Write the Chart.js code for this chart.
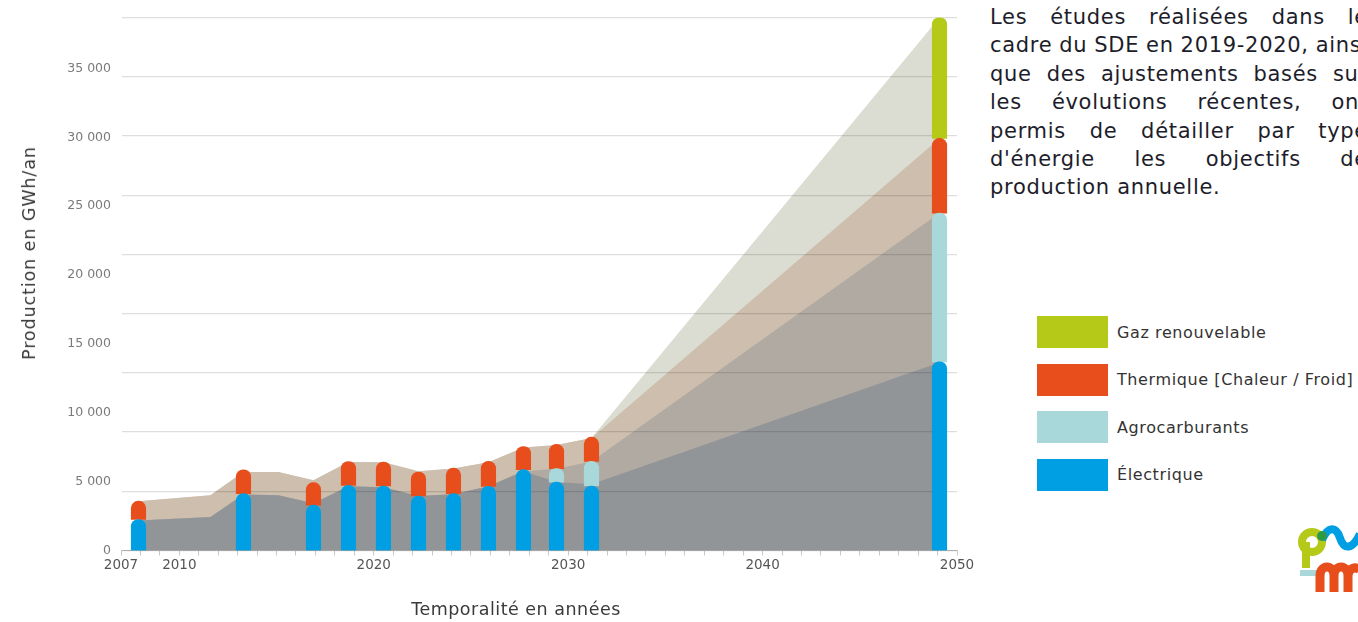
<!DOCTYPE html>
<html lang="fr">
<head>
<meta charset="utf-8">
<title>Production en GWh/an</title>
<script src="https://cdn.jsdelivr.net/npm/chart.js@4.4.1/dist/chart.umd.min.js"></script>
<style>
  html, body { margin: 0; padding: 0; background: #fff; }
  body { position: relative; width: 1358px; height: 622px; overflow: hidden; font-family: "DejaVu Sans", sans-serif; }
  #chartBox { position: absolute; left: 0; top: 0; width: 980px; height: 622px; }
  .axis-title { position: absolute; color: #3a3a3a; white-space: nowrap; font-size: 17.5px; }
  #yTitle { left: 29px; top: 253px; transform: translate(-50%, -50%) rotate(-90deg); letter-spacing: 0.9px; }
  #xTitle { left: 516px; top: 609px; transform: translate(-50%, -50%); letter-spacing: 0.5px; }
  #intro { position: absolute; left: 990px; top: 3px; font-family: "DejaVu Sans", sans-serif; font-size: 21px; letter-spacing: 0.7px; line-height: 28.4px; color: #1d1d2b; }
  #intro .jline { display: flex; justify-content: space-between; width: 378px; white-space: nowrap; }
  #intro .last { white-space: nowrap; }
  #legend { position: absolute; left: 1037px; top: 316px; }
  #legend .item { display: flex; align-items: center; height: 32px; margin-bottom: 15.6px; }
  #legend .swatch { width: 71px; height: 32px; margin-right: 9px; }
  #legend .label { font-size: 16px; letter-spacing: 0.6px; color: #333; white-space: nowrap; }
  #logo { position: absolute; left: 1298px; top: 520px; }
</style>
</head>
<body>
<div id="chartBox"><canvas id="chart" width="980" height="622"></canvas></div>
<div class="axis-title" id="yTitle">Production en GWh/an</div>
<div class="axis-title" id="xTitle">Temporalité en années</div>

<div id="intro">
  <div class="jline">Les études réalisées dans le</div>
  <div class="jline">cadre du SDE en 2019-2020, ainsi</div>
  <div class="jline">que des ajustements basés sur</div>
  <div class="jline">les évolutions récentes, ont</div>
  <div class="jline">permis de détailler par type</div>
  <div class="jline">d'énergie les objectifs de</div>
  <div class="last">production annuelle.</div>
</div>

<div id="legend"></div>

<svg id="logo" width="62" height="72" viewBox="0 0 62 72">
  <circle cx="14" cy="22" r="10" fill="none" stroke="#b5c918" stroke-width="8"/>
  <rect x="4" y="22" width="8" height="26" fill="#b5c918"/>
  <path d="M24 20 C30 6 38 6 42 18 C46 30 54 30 62 14" fill="none" stroke="#009fe3" stroke-width="8"/>
  <circle cx="24" cy="16" r="5" fill="#2e9a45"/>
  <rect x="2" y="50" width="22" height="6" fill="#a8d8da"/>
  <path d="M22 72 L22 56 C22 44 36 44 36 56 L36 72 M36 56 C36 44 50 44 50 56 L50 72 M50 56 C50 48 58 46 62 50" fill="none" stroke="#e84e1b" stroke-width="9"/>
</svg>

<script>
// Production annuelle par type d'énergie (GWh/an), barres aux années repères
const barYears        = [2007.9, 2013.3, 2016.9, 2018.7, 2020.5, 2022.3, 2024.1, 2025.9, 2027.7, 2029.4, 2031.2, 2049.1];
const electrique      = [2250, 4130, 3290, 4730, 4680, 3960, 4130, 4660, 5870, 4970, 4680, 13700];
const agrocarburants  = [null, null, null, null, null, null, null, null, null, 970, 1790, 10800];
const thermique       = [1330, 1730, 1640, 1730, 1740, 1740, 1850, 1810, 1680, 1760, 1760, 5420];
const gazRenouvelable = [null, null, null, null, null, null, null, null, null, null, null, 8780];

// Enveloppes de tendance (valeurs cumulées) dessinées en aplats derrière les barres
const trendYears     = [2007.9, 2011.6, 2013.3, 2015.1, 2016.9, 2018.7, 2020.5, 2022.3, 2024.1, 2025.9, 2027.7, 2029.4, 2031.2, 2049.1];
const trendElec      = [2180, 2440, 4060, 4010, 3430, 4660, 4590, 3960, 4080, 4660, 5750, 4970, 4810, 13650];
const trendAgro      = [2180, 2440, 4060, 4010, 3430, 4660, 4590, 3960, 4080, 4660, 5750, 5940, 6470, 24500];
const trendThermique = [3580, 4010, 5700, 5700, 5100, 6420, 6400, 5750, 5960, 6400, 7480, 7660, 8170, 29920];
const trendTotal     = [3580, 4010, 5700, 5700, 5100, 6420, 6400, 5750, 5960, 6400, 7480, 7660, 8170, 38700];

// Axes
const xTickLabels = [2007, 2010, 2020, 2030, 2040, 2050];
const yTickValues = [0, 5000, 10000, 15000, 20000, 25000, 30000, 35000];

const seriesNames  = ['Gaz renouvelable', 'Thermique [Chaleur / Froid]', 'Agrocarburants', 'Électrique'];
const seriesColors = ['#b5c918', '#e84e1b', '#a8d8da', '#009fe3'];

const formatThousands = v => String(v).replace(/\B(?=(\d{3})+(?!\d))/g, ' ');
const points = (xs, ys) => xs.map((x, i) => ({ x, y: ys[i] }));

const barStyle = {
  type: 'bar',
  stack: 'production',
  barThickness: 14.5,
  borderRadius: { topLeft: 7.25, topRight: 7.25, bottomLeft: 0, bottomRight: 0 },
  borderSkipped: 'start',
  borderWidth: 0,
  order: 1
};

const areaStyle = {
  type: 'line',
  fill: 'origin',
  borderWidth: 0,
  pointRadius: 0,
  tension: 0
};

const datasets = [
  { ...areaStyle, id: 'trendTotal', stack: 'trendTotal', data: points(trendYears, trendTotal), backgroundColor: '#dcddd2', order: 5 },
  { ...areaStyle, id: 'trendThermique', stack: 'trendThermique', data: points(trendYears, trendThermique), backgroundColor: '#cdbead', order: 4 },
  { ...areaStyle, id: 'trendAgro', stack: 'trendAgro', data: points(trendYears, trendAgro), backgroundColor: '#b0aaa3', order: 3 },
  { ...areaStyle, id: 'trendElec', stack: 'trendElec', data: points(trendYears, trendElec), backgroundColor: '#929598', order: 2 },
  { ...barStyle, label: seriesNames[3], data: points(barYears, electrique), backgroundColor: seriesColors[3] },
  { ...barStyle, label: seriesNames[2], data: points(barYears, agrocarburants), backgroundColor: seriesColors[2] },
  { ...barStyle, label: seriesNames[1], data: points(barYears, thermique), backgroundColor: seriesColors[1] },
  { ...barStyle, label: seriesNames[0], data: points(barYears, gazRenouvelable), backgroundColor: seriesColors[0] }
];

// Lignes de quadrillage tracées par-dessus les aplats mais sous les barres
const gridOverAreas = {
  id: 'gridOverAreas',
  afterDatasetDraw(chart, args) {
    if (chart.data.datasets[args.index].id !== 'trendElec') return;
    const ctx = chart.ctx;
    ctx.save();
    chart.scales.yGrid.drawGrid(chart.chartArea);
    ctx.restore();
  }
};

new Chart(document.getElementById('chart'), {
  data: { datasets },
  plugins: [gridOverAreas],
  options: {
    responsive: false,
    animation: false,
    layout: { padding: { left: 0, right: 23, top: 15, bottom: 41.5 } },
    plugins: { legend: { display: false }, tooltip: { enabled: false } },
    scales: {
      x: {
        type: 'linear',
        position: 'bottom',
        offset: false,
        min: 2007,
        max: 2050,
        afterBuildTicks: scale => {
          const ticks = [];
          for (let y = 2007; y <= 2050; y++) ticks.push({ value: y });
          scale.ticks = ticks;
        },
        afterFit: scale => { scale.height = 30; },
        ticks: {
          autoSkip: false,
          maxRotation: 0,
          padding: 2,
          color: '#555',
          font: { family: 'DejaVu Sans', size: 13.5 },
          callback: v => (xTickLabels.includes(v) ? String(v) : '')
        },
        grid: { display: true, offset: false, drawOnChartArea: false, drawTicks: true, tickLength: 5, color: '#c9c9c9' },
        border: { display: true, color: '#c9c9c9', width: 1 }
      },
      y: {
        type: 'linear',
        position: 'left',
        stacked: true,
        min: 0,
        max: 38700,
        afterBuildTicks: scale => { scale.ticks = yTickValues.map(value => ({ value })); },
        afterFit: scale => { scale.width = 121; },
        ticks: {
          padding: 10,
          color: '#7a7a7a',
          font: { family: 'DejaVu Sans', size: 12.5 },
          callback: v => formatThousands(v)
        },
        grid: { display: false, drawTicks: false },
        border: { display: false }
      },
      yGrid: {
        type: 'linear',
        position: 'left',
        display: false,
        min: 0,
        max: 9,
        ticks: { stepSize: 1 },
        grid: { display: true, drawTicks: false, color: 'rgba(0,0,0,0.13)', lineWidth: 1.2 }
      }
    }
  }
});

// Paragraphe justifié : chaque ligne répartit ses mots sur toute la largeur
document.querySelectorAll('#intro .jline').forEach(line => {
  const words = line.textContent.trim().split(/\s+/);
  line.textContent = '';
  words.forEach(w => {
    const span = document.createElement('span');
    span.textContent = w;
    line.appendChild(span);
  });
});

// Légende
const legend = document.getElementById('legend');
seriesNames.forEach((name, i) => {
  const item = document.createElement('div');
  item.className = 'item';
  item.innerHTML = '<span class="swatch" style="background:' + seriesColors[i] + '"></span><span class="label"></span>';
  item.querySelector('.label').textContent = name;
  legend.appendChild(item);
});
</script>
</body>
</html>
